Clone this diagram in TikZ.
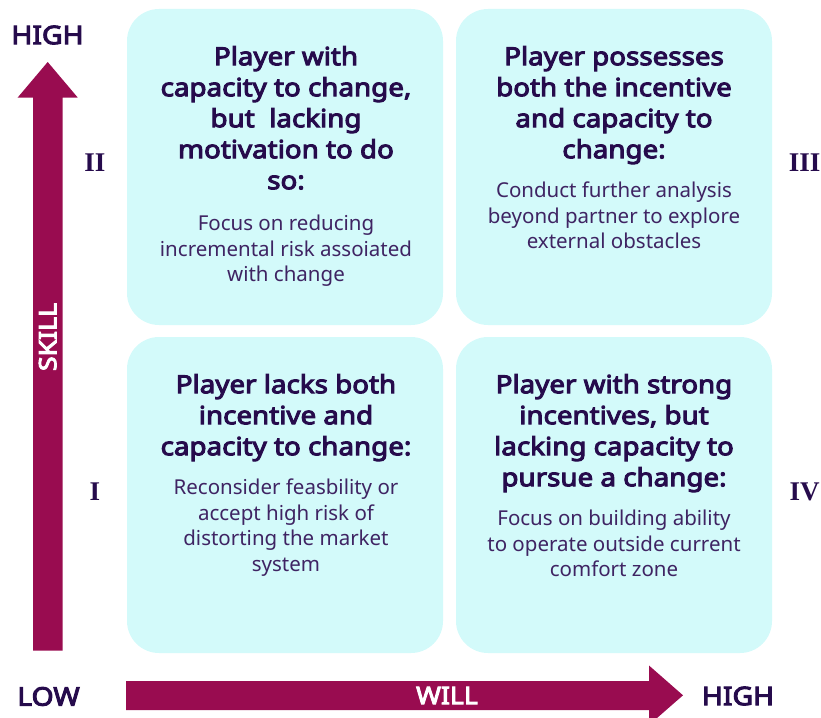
\documentclass[tikz,border=0pt]{standalone}
\usepackage{fontspec}
\setmainfont{Noto Sans}[BoldFont={Noto Sans}, BoldFeatures={FakeBold=4, FakeStretch=1.11}]
\newfontfamily\romanfont{Liberation Serif}
\definecolor{arrowc}{HTML}{990C50}
\definecolor{boxc}{HTML}{D3FAFA}
\definecolor{headc}{HTML}{260B4C}
\definecolor{bodyc}{HTML}{3F2463}
\tikzset{
  quad/.style={draw=none, fill=boxc, rounded corners=32pt, minimum width=316pt, minimum height=316pt, inner sep=0pt},
  headtxt/.style={anchor=north, align=center, text=headc, inner sep=0pt, font=\fontsize{25}{31}\selectfont\bfseries},
  bodytxt/.style={anchor=north, align=center, text=bodyc, inner sep=0pt, font=\fontsize{20.5}{25.5}\selectfont},
  axlabel/.style={text=headc, inner sep=0pt, font=\fontsize{25.5}{30}\selectfont\bfseries},
  arrlabel/.style={text=white, inner sep=0pt, font=\fontsize{24}{26}\selectfont\bfseries},
  romanlabel/.style={text=headc, inner sep=0pt, font=\romanfont\fontsize{27}{30}\selectfont\bfseries}
}
\begin{document}
\begin{tikzpicture}[x=1pt,y=-1pt]
\useasboundingbox (0,0) rectangle (821,717);
\clip (0,0) rectangle (821,717);
% quadrants
\node[quad] (q2) at (285,167) {};
\node[quad] (q3) at (614,167) {};
\node[quad] (q1) at (285,495) {};
\node[quad] (q4) at (614,495) {};
% headings
\node[headtxt] (h2) at (286,46) {Player with\\capacity to change,\\but\ \ lacking\\motivation to do\\so:};
\node[bodytxt] (b2) at (286,215) {Focus on reducing\\incremental risk assoiated\\with change};
\node[headtxt] (h3) at (614,46) {Player possesses\\both the incentive\\and capacity to\\change:};
\node[bodytxt] (b3) at (614,182) {Conduct further analysis\\beyond partner to explore\\external obstacles};
\node[headtxt] (h1) at (286,374) {Player lacks both\\incentive and\\capacity to change:};
\node[bodytxt] (b1) at (286,479) {Reconsider feasbility or\\accept high risk of\\distorting the market\\system};
\node[headtxt] (h4) at (614,374) {Player with strong\\incentives, but\\lacking capacity to\\pursue a change:};
\node[bodytxt] (b4) at (614,510) {Focus on building ability\\to operate outside current\\comfort zone};
% arrows
\fill[arrowc] (33,650.5) -- (33,97.5) -- (17.7,97.5) -- (47.7,62) -- (77.7,97.5) -- (62.5,97.5) -- (62.5,650.5) -- cycle;
\fill[arrowc] (126,681) -- (649,681) -- (649,665.5) -- (683,695.3) -- (649,725) -- (649,710) -- (126,710) -- cycle;
\node[arrlabel, rotate=90] (skill) at (47.7,337) {SKILL};
\node[arrlabel] (will) at (447,695.5) {WILL};
% axis labels
\node[axlabel] (hightop) at (47.5,35) {HIGH};
\node[axlabel] (low) at (48.5,696.5) {LOW};
\node[axlabel] (highright) at (738,696) {HIGH};
% roman numerals
\node[romanlabel] (r2) at (95,163) {II};
\node[romanlabel] (r3) at (804.5,163) {III};
\node[romanlabel] (r1) at (95,492) {I};
\node[romanlabel] (r4) at (804.5,492) {IV};
\end{tikzpicture}
\end{document}
